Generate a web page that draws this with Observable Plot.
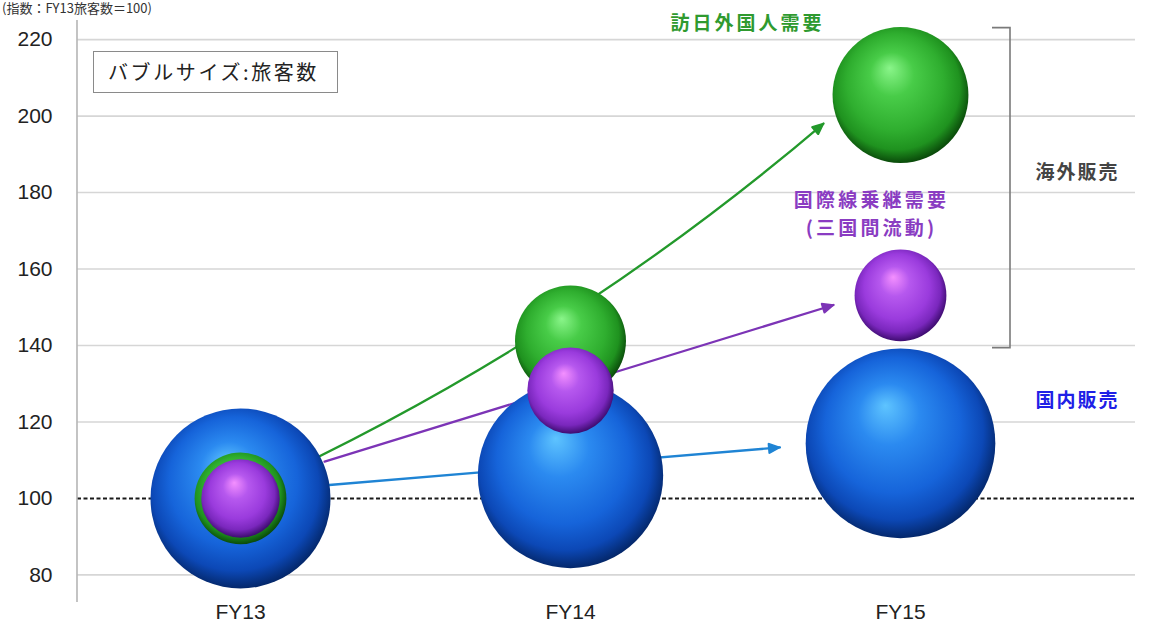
<!DOCTYPE html>
<html>
<head>
<meta charset="utf-8">
<script src="https://cdn.jsdelivr.net/npm/d3@7"></script>
<script src="https://cdn.jsdelivr.net/npm/@observablehq/plot@0.6"></script>
<style>
  html, body { margin: 0; padding: 0; background: #fff; overflow: hidden; }
  #wrap { position: relative; width: 1153px; height: 637px; }
  .unit {
    position: absolute; left: 2px; top: 0px;
    font: 13px "Noto Sans CJK JP", sans-serif; color: #333; white-space: nowrap;
    line-height: 15px;
  }
  .key {
    position: absolute; left: 93px; top: 51px; width: 245px; height: 42px;
    box-sizing: border-box; border: 1.5px solid #8a8a8a; background: #fff;
    font: 20px "Noto Sans CJK JP", sans-serif; color: #222; letter-spacing: 2.6px;
    line-height: 39px; padding-left: 14px; white-space: nowrap;
  }
</style>
</head>
<body>
<div id="wrap">
  <div class="unit">(指数：FY13旅客数＝100)</div>
  <div id="chart"></div>
  <div class="key">バブルサイズ:旅客数</div>
</div>
<script>
// Fiscal years on the horizontal axis
const years = ["FY13", "FY14", "FY15"];

// Passenger index (FY13 = 100), bubble centres
const domesticIndex = [100, 106, 114.4];
const inboundIndex = [100, 141.2, 205.5];
const transitIndex = [100, 128.2, 153.1];

// Passenger volume, bubble size (same arbitrary unit for all segments)
const domesticPax = [100, 106, 111];
const inboundPax = [26, 38, 57];
const transitPax = [19, 23, 26];

// Axis ticks and the FY13 baseline
const yTicks = [80, 100, 120, 140, 160, 180, 200, 220];
const baseline = 100;

// Segment labels
const inboundLabel = "訪日外国人需要";
const transitLabel = "国際線乗継需要\n(三国間流動)";
const overseasLabel = "海外販売";
const domesticLabel = "国内販売";

const series = [
  {key: "domestic", index: domesticIndex, pax: domesticPax},
  {key: "inbound", index: inboundIndex, pax: inboundPax},
  {key: "transit", index: transitIndex, pax: transitPax}
];

const bubbles = series.flatMap(s =>
  years.map((year, i) => ({key: s.key, year, index: s.index[i], pax: s.pax[i]}))
);

// Sphere shading and arrow styling per segment
const palette = {
  domestic: {arrow: "#1f84d4", stops: ["#5ec4ff", "#2b8af0", "#1664da", "#0c48b6", "#04286c"]},
  inbound: {arrow: "#23992b", stops: ["#8af58a", "#48cc48", "#2fae2f", "#1f921f", "#0a4a0a"]},
  transit: {arrow: "#7c34b6", stops: ["#f490ff", "#b658ee", "#9a3bdd", "#7a27bd", "#3e0c70"]}
};
// The inbound arrow is a gentle curve whose tip sits left of the FY15 sphere
const arrowStyle = {
  inbound: {insetStart: 0, insetEnd: 0, bend: -9, dx: -77, dy: 28.5},
  transit: {insetStart: 88, insetEnd: 70, bend: 0, dx: 0, dy: -11},
  domestic: {insetStart: 89, insetEnd: 121, bend: 0, dx: 0, dy: -6}
};

const arrowMarks = ["inbound", "transit", "domestic"].map(key => {
  const s = series.find(d => d.key === key);
  const st = arrowStyle[key];
  return Plot.arrow([{x1: years[0], y1: s.index[0], x2: years[2], y2: s.index[2]}], {
    x1: "x1", y1: "y1", x2: "x2", y2: "y2",
    stroke: palette[key].arrow, strokeWidth: 2.3,
    headLength: 8, headAngle: 48,
    insetStart: st.insetStart, insetEnd: st.insetEnd, bend: st.bend, dx: st.dx, dy: st.dy
  });
});

const labelFont = {fontFamily: "'Noto Sans CJK JP', sans-serif", fontWeight: "bold"};
const labelMarks = [
  Plot.text([inboundLabel], {x: () => "FY15", y: () => 224.2, dx: -153, text: d => d,
    fill: "#2f9a2f", fontSize: 19, textAnchor: "middle", ...labelFont}),
  Plot.text([transitLabel], {x: () => "FY15", y: () => 174.8, dx: -29, text: d => d,
    fill: "#8a3cc2", fontSize: 19, lineHeight: 1.45, textAnchor: "middle", ...labelFont}),
  Plot.text([overseasLabel], {x: () => "FY15", y: () => 185.2, dx: 135, text: d => d,
    fill: "#444444", fontSize: 19, textAnchor: "start", ...labelFont}),
  Plot.text([domesticLabel], {x: () => "FY15", y: () => 125.4, dx: 135, text: d => d,
    fill: "#2020e6", fontSize: 19, textAnchor: "start", ...labelFont})
];

// Bracket grouping the two overseas segments, plus the left axis line
function decor(index, scales, values, dimensions) {
  const g = d3.create("svg:g");
  const xr = scales.x("FY15") + 110;
  const yTop = scales.y(223), yBot = scales.y(139.3);
  g.append("path")
    .attr("d", `M${xr - 18},${yTop}H${xr}V${yBot}H${xr - 18}`)
    .attr("fill", "none").attr("stroke", "#7a7a7a").attr("stroke-width", 1.6);
  g.append("line")
    .attr("x1", dimensions.marginLeft).attr("x2", dimensions.marginLeft)
    .attr("y1", dimensions.marginTop).attr("y2", dimensions.height - dimensions.marginBottom + 2)
    .attr("stroke", "#b5b5b5").attr("stroke-width", 1.6);
  return g.node();
}

const chart = Plot.plot({
  width: 1153,
  height: 637,
  marginTop: 20,
  marginBottom: 37,
  marginLeft: 77,
  marginRight: 18,
  style: {fontFamily: "'Liberation Sans', Arial, sans-serif", fontSize: "21px", color: "#222", background: "#fff", overflow: "visible"},
  x: {type: "point", domain: years, range: [240, 900], padding: 0, label: null},
  y: {domain: [73.3, 225], label: null},
  r: {type: "sqrt", domain: [0, 100], range: [0, 90]},
  marks: [
    Plot.gridY(yTicks.filter(t => t !== baseline), {stroke: "#d6d6d6", strokeOpacity: 1, strokeWidth: 1.6}),
    Plot.ruleY([baseline], {stroke: "#1a1a1a", strokeWidth: 2, strokeDasharray: "4,2.5"}),
    Plot.axisY(yTicks, {tickSize: 0, tickPadding: 25, fontSize: 21, fill: "#222"}),
    Plot.axisX(years, {tickSize: 0, tickPadding: 4, fontSize: 21, fill: "#222"}),
    ...arrowMarks,
    Plot.dot(bubbles, {x: "year", y: "index", r: "pax", fill: d => `url(#sphere-${d.key})`, stroke: null}),
    ...labelMarks,
    decor
  ]
});

// Letter spacing for the segment labels
const spacing = [3, 3.2, 2, 2];
d3.select(chart).selectAll('g[aria-label="text"]').each(function (d, i) {
  this.setAttribute("letter-spacing", spacing[i] ?? 0);
});

// Sphere gradients
const defs = d3.select(chart).insert("defs", ":first-child");
for (const [key, p] of Object.entries(palette)) {
  const grad = defs.append("radialGradient")
    .attr("id", `sphere-${key}`)
    .attr("cx", 0.48).attr("cy", 0.46).attr("r", 0.54)
    .attr("fx", 0.42).attr("fy", 0.3);
  [0, 0.3, 0.66, 0.86, 1].forEach((o, i) =>
    grad.append("stop").attr("offset", o).attr("stop-color", p.stops[i]));
}

// Solid arrowheads: split each arrow path into shaft and filled head
d3.select(chart).selectAll('g[aria-label="arrow"] path').each(function () {
  const d = this.getAttribute("d");
  const k = d.indexOf("M", 1);
  if (k < 0) return;
  const color = this.getAttribute("stroke") || this.parentNode.getAttribute("stroke");
  this.setAttribute("d", d.slice(0, k));
  d3.select(this.parentNode).append("path")
    .attr("d", d.slice(k) + "Z")
    .attr("fill", color).attr("stroke", color).attr("stroke-width", 1.5)
    .attr("stroke-linejoin", "miter")
    .attr("transform", this.getAttribute("transform"));
});

document.getElementById("chart").appendChild(chart);
</script>
</body>
</html>
